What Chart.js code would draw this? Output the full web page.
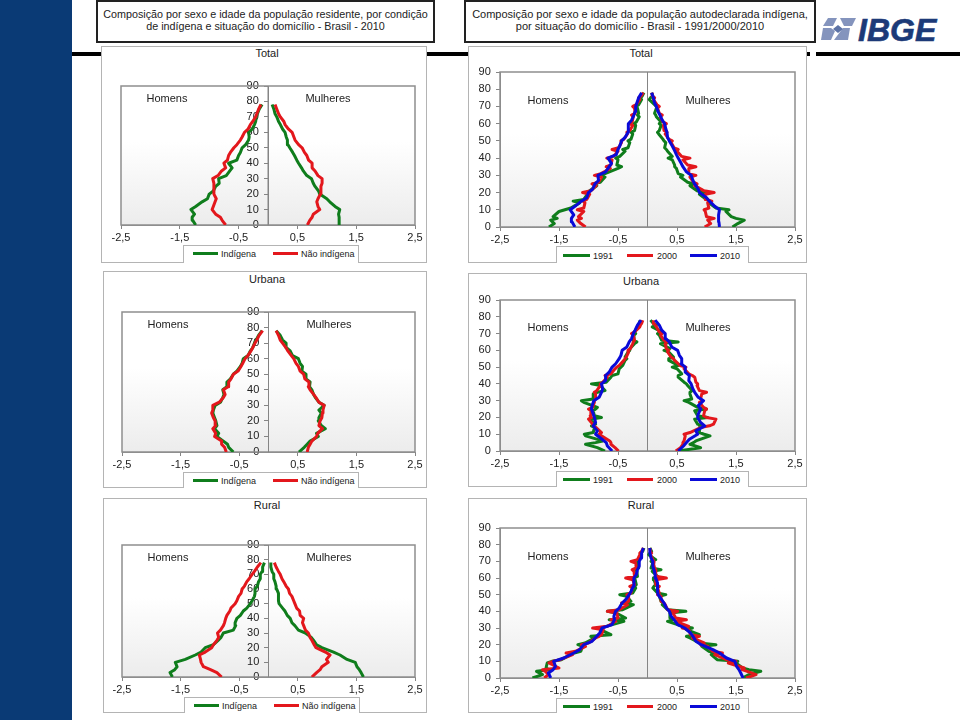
<!DOCTYPE html>
<html lang="pt">
<head>
<meta charset="utf-8">
<title>Composição por sexo e idade</title>
<script src="https://cdn.jsdelivr.net/npm/chart.js@4"></script>
<style>
html, body { margin: 0; padding: 0; background: #fff; }
body { position: relative; width: 960px; height: 720px; overflow: hidden; font-family: "Liberation Sans", Arial, sans-serif; color: #222; }
.abs { position: absolute; }
.band { left: 0; top: 0; width: 72px; height: 720px; background: #0a3a75; }
.rule { top: 52px; height: 4px; background: #000; }
.head { box-sizing: border-box; top: 0; height: 43px; border: 2px solid #222; background: #fff; text-align: center; line-height: 11.5px; padding-top: 7px; white-space: nowrap; }
.panel { box-sizing: border-box; background: #fff; border: 1px solid #b4b4b4; }
.label { font-size: 11px; transform: translate(-50%, -50%); white-space: nowrap; }
.legendBox { box-sizing: border-box; background: #fff; border: 1px solid #b4b4b4; border-bottom: none; }
.swatch { height: 3px; }
.legendText { font-size: 9px; transform: translateY(-50%); white-space: nowrap; }
canvas { position: absolute; }
.logo { left: 858px; top: 12px; font-size: 32px; font-weight: bold; font-style: italic; color: #1c3a78; -webkit-text-stroke: 0.6px #1c3a78; }
</style>
</head>
<body>
<div class="abs band"></div>
<div class="abs rule" style="left:72px;width:738px"></div>
<div class="abs rule" style="left:816px;width:144px"></div>
<div class="abs head" style="left:96px;width:339px;font-size:10.75px">Composição por sexo e idade da população residente, por condição<br>de indígena e situação do domicílio - Brasil - 2010</div>
<div class="abs head" style="left:464px;width:352px;font-size:11px">Composição por sexo e idade da população autodeclarada indígena,<br>por situação do domicílio - Brasil - 1991/2000/2010</div>
<svg class="abs" style="left:821px;top:17px" width="36" height="25" viewBox="0 0 36 25">
  <polygon points="7,1 16,1 12,9 2,9" fill="#8494bd"/>
  <polygon points="19,1 35,1 31,9 23,9" fill="#8494bd"/>
  <polygon points="2,11 10,11 14,14 10,23 0,23" fill="#8494bd"/>
  <polygon points="22,11 29,11 27,23 13,23 19,15" fill="#8494bd"/>
  <polygon points="17,8 22,12 17,16 12,12" fill="#5d73a6"/>
</svg>
<div class="abs logo">IBGE</div>
<script>
const agesA = [0,3,5,7,10,12,15,17,20,22,25,27,30,32,35,37,40,42,45,47,50,52,55,57,60,62,65,67,70,72,75,78];
const agesB = [0,2,4,5,6,9,10,11,14,15,16,19,20,21,24,25,26,29,30,31,34,35,36,39,40,41,44,45,46,49,50,51,54,55,56,59,60,61,64,65,66,69,70,71,74,75,76,78];
const xTickValues = [-2.5,-1.5,-0.5,0.5,1.5,2.5];
const xTickLabels = ["-2,5","-1,5","-0,5","0,5","1,5","2,5"];

// 2010, percent of the population per single age (agesA)
const totalIndigenaH = [1.23,1.28,1.29,1.25,1.31,1.23,1.12,1.03,1.00,.93,.89,.83,.84,.71,.65,.61,.67,.53,.50,.47,.44,.38,.33,.32,.33,.27,.23,.21,.20,.18,.15,.10];
const totalNaoH = [.72,.78,.81,.89,.95,.93,.90,.88,.92,.92,.92,.92,.94,.85,.79,.72,.75,.69,.67,.64,.58,.53,.47,.44,.40,.34,.30,.26,.21,.19,.16,.12];
const totalIndigenaM = [1.22,1.21,1.21,1.20,1.22,1.14,1.05,1.00,.88,.86,.80,.77,.74,.66,.60,.57,.52,.49,.45,.42,.37,.34,.33,.31,.29,.25,.21,.18,.15,.12,.10,.07];
const totalNaoM = [.67,.71,.75,.77,.88,.85,.83,.85,.89,.90,.90,.92,.92,.85,.80,.75,.75,.69,.66,.62,.58,.52,.46,.44,.41,.35,.29,.27,.21,.18,.15,.12];
const urbanaIndigenaH = [.60,.68,.70,.77,.88,.85,.92,.88,.90,.92,.95,.94,.91,.82,.78,.76,.78,.71,.71,.65,.60,.54,.48,.45,.43,.35,.31,.27,.24,.21,.17,.11];
const urbanaNaoH = [.72,.75,.80,.80,.92,.90,.95,.90,.91,.94,.97,.95,.95,.84,.77,.74,.77,.69,.68,.64,.60,.52,.47,.44,.40,.35,.30,.27,.23,.20,.16,.10];
const urbanaIndigenaM = [.52,.61,.66,.71,.85,.82,.97,.90,.85,.86,.90,.86,.95,.86,.80,.77,.74,.70,.71,.64,.64,.57,.58,.54,.51,.41,.37,.31,.30,.24,.20,.13];
const urbanaNaoM = [.66,.68,.71,.74,.82,.84,.92,.86,.88,.91,.92,.93,.95,.86,.81,.77,.71,.68,.69,.62,.60,.54,.51,.47,.43,.39,.33,.30,.24,.20,.17,.13];
const ruralIndigenaH = [1.64,1.68,1.60,1.56,1.59,1.42,1.25,1.15,1.08,.94,.86,.81,.77,.60,.56,.57,.54,.48,.43,.37,.31,.28,.24,.23,.23,.19,.17,.14,.14,.11,.10,.07];
const ruralNaoH = [.80,.88,.99,1.11,1.15,1.16,1.18,1.08,.97,.94,.88,.85,.87,.82,.77,.75,.73,.71,.66,.64,.57,.54,.51,.47,.45,.41,.37,.33,.28,.24,.19,.13];
const ruralIndigenaM = [1.62,1.58,1.55,1.51,1.48,1.34,1.22,1.11,.91,.82,.77,.73,.63,.51,.45,.40,.37,.32,.28,.24,.18,.17,.17,.17,.14,.13,.11,.09,.09,.06,.04,.04];
const ruralNaoM = [.74,.82,.88,.91,1.02,.99,1.05,.97,.81,.78,.74,.71,.68,.63,.60,.58,.60,.54,.53,.48,.45,.43,.40,.36,.34,.30,.26,.23,.20,.17,.13,.10];

// indigenous population in earlier censuses (agesB)
const total1991H = [1.67,1.58,1.64,1.53,1.60,1.50,1.40,1.30,1.15,1.26,1.08,1.02,1.04,.98,.86,.93,.80,.72,.80,.72,.50,.44,.52,.50,.54,.47,.38,.42,.33,.30,.33,.28,.25,.28,.22,.20,.23,.19,.14,.17,.15,.17,.19,.15,.10,.12,.09,.06];
const total2000H = [1.05,1.13,1.19,1.12,1.17,1.08,1.19,1.08,1.06,1.09,1.03,.98,1.10,.96,.87,.94,.83,.78,.90,.79,.63,.70,.62,.60,.69,.58,.50,.60,.49,.44,.45,.40,.34,.35,.30,.25,.30,.26,.24,.27,.21,.22,.25,.19,.13,.15,.11,.07];
const total1991M = [1.44,1.53,1.64,1.50,1.42,1.33,1.38,1.16,1.04,1.06,1.00,.88,.98,.84,.72,.78,.68,.56,.60,.52,.49,.46,.46,.42,.35,.42,.34,.32,.29,.31,.28,.26,.19,.17,.20,.23,.20,.23,.15,.14,.12,.15,.15,.12,.03,.05,.09,.07];
const total2000M = [.97,1.07,1.02,1.13,1.00,.98,.96,1.04,1.02,1.09,.99,.98,1.13,.96,.80,.84,.78,.72,.82,.70,.70,.82,.68,.60,.72,.58,.50,.52,.45,.40,.42,.36,.30,.33,.28,.27,.32,.26,.22,.25,.20,.17,.20,.16,.10,.12,.08,.08];
const urbana1991H = [.72,.85,1.05,.88,.76,1.05,1.07,.92,.90,.95,.88,.95,.78,.90,.92,.88,.85,1.08,1.12,.92,.92,.85,.72,.80,.95,.70,.62,.60,.50,.48,.45,.42,.38,.35,.38,.33,.30,.30,.22,.18,.24,.23,.20,.22,.15,.14,.12,.14];
const urbana2000H = [.49,.55,.62,.62,.64,.78,.82,.78,.87,.92,.93,1.00,.95,.97,.96,1.00,.93,.90,.90,.88,.88,.90,.86,.80,.80,.76,.68,.72,.62,.55,.52,.48,.40,.38,.36,.32,.33,.29,.25,.24,.22,.24,.27,.22,.13,.12,.10,.08];
const urbana1991M = [.52,.90,.72,.78,.82,1.06,.96,.88,.88,.92,.85,.80,1.02,.85,.80,1.00,.85,.70,.62,.75,.72,.72,.76,.68,.66,.62,.52,.52,.58,.50,.42,.52,.36,.36,.44,.36,.28,.38,.22,.52,.24,.20,.17,.24,.08,.15,.10,.05];
const urbana2000M = [.48,.56,.60,.60,.62,.64,.62,.72,.90,1.05,1.12,1.16,1.00,.95,.97,1.00,.95,.88,.92,.90,.92,1.00,.88,.84,.85,.82,.80,.76,.70,.62,.65,.55,.46,.44,.40,.34,.36,.32,.30,.33,.28,.22,.25,.20,.15,.13,.11,.10];
const rural1991H = [1.95,1.78,1.88,1.67,1.72,1.70,1.62,1.46,1.30,1.24,1.13,1.10,1.18,1.06,.90,.96,.62,.80,.78,.70,.40,.65,.37,.53,.68,.42,.24,.42,.28,.35,.47,.25,.20,.22,.19,.21,.23,.17,.18,.20,.15,.18,.16,.14,.10,.12,.08,.06];
const rural2000H = [1.75,1.68,1.73,1.78,1.50,1.67,1.60,1.48,1.27,1.38,1.22,1.05,1.12,1.00,.88,.82,.78,.75,.93,.68,.54,.62,.50,.52,.68,.48,.34,.44,.32,.32,.35,.28,.26,.30,.22,.25,.37,.22,.23,.26,.19,.20,.28,.17,.13,.13,.10,.07];
const rural1991M = [1.61,1.72,1.92,1.72,1.61,1.50,1.53,1.18,1.08,1.14,1.04,.92,1.16,.88,.72,.66,.88,.66,.76,.60,.34,.44,.38,.38,.65,.34,.25,.27,.23,.20,.31,.17,.09,.11,.14,.11,.10,.17,.08,.23,.06,.09,.06,.14,.02,.04,.07,.04];
const rural2000M = [1.67,1.84,1.69,1.60,1.64,1.37,1.50,1.34,1.14,1.27,1.10,1.02,.90,.96,.76,.88,.73,.70,.59,.70,.48,.66,.48,.43,.51,.34,.30,.28,.24,.23,.17,.20,.17,.20,.14,.14,.32,.14,.14,.14,.12,.10,.11,.09,.05,.07,.05,.04];

const GREEN = "#0f7d1c";
const RED = "#e3171c";
const BLUE = "#0a0ad8";
const GRAY = "#858585";
const AXIS_H = 20;

// gradient behind the lines, frame and centre line on top of it
const plotFrame = {
    id: "plotFrame",
    beforeDraw(chart) {
        const a = chart.chartArea, ctx = chart.ctx;
        const g = ctx.createLinearGradient(0, a.top, 0, a.bottom);
        g.addColorStop(0, "#ffffff");
        g.addColorStop(0.4, "#ffffff");
        g.addColorStop(1, "#ececec");
        ctx.fillStyle = g;
        ctx.fillRect(a.left, a.top, a.right - a.left, a.bottom - a.top);
    },
    beforeDatasetsDraw(chart) {
        const a = chart.chartArea, ctx = chart.ctx;
        const x0 = chart.scales.x.getPixelForValue(0);
        ctx.save();
        ctx.strokeStyle = "#8e8e8e";
        ctx.lineWidth = 1.5;
        ctx.strokeRect(a.left, a.top, a.right - a.left, a.bottom - a.top);
        ctx.lineWidth = 1;
        ctx.strokeStyle = GRAY;
        ctx.beginPath();
        ctx.moveTo(x0, a.top);
        ctx.lineTo(x0, a.bottom);
        ctx.stroke();
        ctx.restore();
    }
};

function line(ages, values, color, sign) {
    return {
        data: ages.map((age, i) => ({ x: sign * values[i], y: age })),
        borderColor: color,
        borderWidth: 3,
        showLine: true,
        pointRadius: 0,
        tension: 0,
        borderJoinStyle: "round"
    };
}

function addEl(cls, style, text) {
    const el = document.createElement("div");
    el.className = "abs " + cls;
    Object.assign(el.style, style);
    if (text) el.textContent = text;
    document.body.appendChild(el);
    return el;
}

function drawPanel(p) {
    addEl("panel", { left: p.box[0] + "px", top: p.box[1] + "px", width: (p.box[2] - p.box[0]) + "px", height: (p.box[3] - p.box[1]) + "px" });
    addEl("label", { left: p.titleAt[0] + "px", top: p.titleAt[1] + "px" }, p.title);
    addEl("legendBox", { left: p.legend.box[0] + "px", top: p.legend.box[1] + "px", width: (p.legend.box[2] - p.legend.box[0]) + "px", height: (p.legend.box[3] - p.legend.box[1]) + "px" });
    p.legend.items.forEach(it => {
        addEl("swatch", { left: it.x1 + "px", top: (p.legend.y - 1) + "px", width: (it.x2 - it.x1) + "px", background: it.color });
        addEl("legendText", { left: it.tx + "px", top: (p.legend.y + 0.5) + "px" }, it.text);
    });

    const canvas = document.createElement("canvas");
    const w = p.box[2] - p.box[0], h = p.box[3] - p.box[1];
    canvas.width = w;
    canvas.height = h;
    canvas.style.left = p.box[0] + "px";
    canvas.style.top = p.box[1] + "px";
    canvas.style.width = w + "px";
    canvas.style.height = h + "px";
    document.body.appendChild(canvas);

    new Chart(canvas.getContext("2d"), {
        type: "scatter",
        data: { datasets: p.datasets },
        options: {
            responsive: false,
            animation: false,
            layout: {
                padding: {
                    left: p.plot[0] - p.box[0],
                    top: p.plot[1] - p.box[1],
                    right: p.box[2] - p.plot[2],
                    bottom: p.box[3] - p.plot[3] - AXIS_H
                }
            },
            plugins: { legend: { display: false }, tooltip: { enabled: false } },
            scales: {
                x: {
                    type: "linear",
                    min: -2.5,
                    max: 2.5,
                    afterBuildTicks: s => { s.ticks = xTickValues.map(v => ({ value: v })); },
                    afterFit: s => { s.height = AXIS_H; },
                    grid: { drawOnChartArea: false, color: GRAY, tickLength: 4 },
                    border: { color: "#8e8e8e" },
                    ticks: {
                        autoSkip: false,
                        maxRotation: 0,
                        padding: 2,
                        color: "#222",
                        font: { family: "Liberation Sans", size: 11 },
                        callback: v => xTickLabels[xTickValues.indexOf(v)]
                    }
                },
                y: {
                    type: "linear",
                    min: 0,
                    max: 90,
                    position: { x: p.yAxisAt },
                    grid: { drawOnChartArea: false, color: GRAY, tickLength: 4 },
                    border: { color: GRAY },
                    ticks: {
                        autoSkip: false,
                        stepSize: 10,
                        color: "#222",
                        font: { family: "Liberation Sans", size: 11 },
                        // labels on an axis placed by value get no padding from the library
                        callback: v => v + "   "
                    }
                }
            }
        },
        plugins: [plotFrame]
    });

    addEl("label", { left: p.homensAt[0] + "px", top: p.homensAt[1] + "px" }, "Homens");
    addEl("label", { left: p.mulheresAt[0] + "px", top: p.mulheresAt[1] + "px" }, "Mulheres");
}

function legend2(y, boxTop, boxBottom, dx) {
    return {
        box: [183 + dx, boxTop, 359 + dx, boxBottom],
        y: y,
        items: [
            { x1: 193 + dx, x2: 218 + dx, tx: 221 + dx, color: GREEN, text: "Indígena" },
            { x1: 273 + dx, x2: 298 + dx, tx: 301 + dx, color: RED, text: "Não indígena" }
        ]
    };
}

function legend3(y, boxTop, boxBottom) {
    return {
        box: [556, boxTop, 749, boxBottom],
        y: y,
        items: [
            { x1: 563, x2: 590, tx: 593, color: GREEN, text: "1991" },
            { x1: 627, x2: 653, tx: 657, color: RED, text: "2000" },
            { x1: 690, x2: 717, tx: 720, color: BLUE, text: "2010" }
        ]
    };
}

// the library paints the first dataset last, so the top line comes first
function leftSets(indH, naoH, indM, naoM) {
    return [
        line(agesA, naoH, RED, -1), line(agesA, naoM, RED, 1),
        line(agesA, indH, GREEN, -1), line(agesA, indM, GREEN, 1)
    ];
}

function rightSets(h91, h00, h10, m91, m00, m10) {
    return [
        line(agesA, h10, BLUE, -1), line(agesA, m10, BLUE, 1),
        line(agesB, h00, RED, -1), line(agesB, m00, RED, 1),
        line(agesB, h91, GREEN, -1), line(agesB, m91, GREEN, 1)
    ];
}

drawPanel({ title: "Total", titleAt: [267, 53], box: [101, 46, 427, 263], plot: [121, 86, 415, 225], yAxisAt: 0,
    homensAt: [167, 98], mulheresAt: [328, 98], legend: legend2(253, 245, 263, 0),
    datasets: leftSets(totalIndigenaH, totalNaoH, totalIndigenaM, totalNaoM) });
drawPanel({ title: "Total", titleAt: [641, 53], box: [468, 46, 807, 263], plot: [500, 72, 795, 227], yAxisAt: -2.5,
    homensAt: [548, 100], mulheresAt: [708, 100], legend: legend3(255, 246, 263),
    datasets: rightSets(total1991H, total2000H, totalIndigenaH, total1991M, total2000M, totalIndigenaM) });
drawPanel({ title: "Urbana", titleAt: [267, 279], box: [103, 271, 427, 488], plot: [122, 312, 415, 452], yAxisAt: 0,
    homensAt: [168, 324], mulheresAt: [329, 324], legend: legend2(480, 472, 488, 0),
    datasets: leftSets(urbanaIndigenaH, urbanaNaoH, urbanaIndigenaM, urbanaNaoM) });
drawPanel({ title: "Urbana", titleAt: [641, 281], box: [468, 273, 807, 487], plot: [500, 300, 795, 451], yAxisAt: -2.5,
    homensAt: [548, 327], mulheresAt: [708, 327], legend: legend3(479, 471, 487),
    datasets: rightSets(urbana1991H, urbana2000H, urbanaIndigenaH, urbana1991M, urbana2000M, urbanaIndigenaM) });
drawPanel({ title: "Rural", titleAt: [267, 505], box: [103, 498, 427, 713], plot: [122, 545, 415, 677], yAxisAt: 0,
    homensAt: [168, 557], mulheresAt: [329, 557], legend: legend2(705, 697, 713, 1),
    datasets: leftSets(ruralIndigenaH, ruralNaoH, ruralIndigenaM, ruralNaoM) });
drawPanel({ title: "Rural", titleAt: [641, 505], box: [468, 498, 807, 713], plot: [500, 528, 795, 678], yAxisAt: -2.5,
    homensAt: [548, 556], mulheresAt: [708, 556], legend: legend3(706, 698, 713),
    datasets: rightSets(rural1991H, rural2000H, ruralIndigenaH, rural1991M, rural2000M, ruralIndigenaM) });
</script>
</body>
</html>
